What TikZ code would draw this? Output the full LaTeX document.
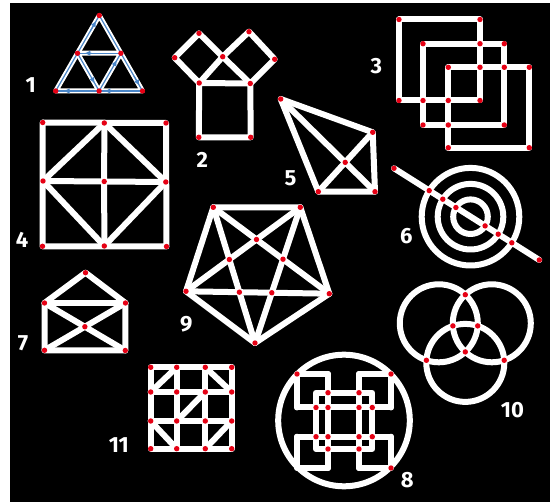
\documentclass[tikz,border=0pt]{standalone}
\usepackage{fontspec}
\newfontfamily\lblfont{Fira Sans}
\usetikzlibrary{calc,arrows.meta}
\definecolor{dotred}{RGB}{230,0,20}
\definecolor{arrowblue}{RGB}{74,134,200}
\tikzset{
 wl/.style={draw=white, line width=6pt, line cap=round, line join=round},
 thinwl/.style={draw=white, line width=5pt, line cap=round, line join=round},
 bl/.style={draw=arrowblue, line width=1.2pt},
 ba/.style={draw=arrowblue, line width=1.2pt, -{Latex[length=6pt,width=5.5pt]}},
 lbl/.style={text=white, font=\lblfont\bfseries\fontsize{22}{22}\selectfont, inner sep=0pt},
}
\newcommand\reddots[1]{\foreach \p in {#1}{\fill[dotred] (\p) circle[radius=2.7pt];}}
\begin{document}
\begin{tikzpicture}[x=1pt,y=-1pt]
\useasboundingbox (0,0) rectangle (557,502);
\fill[white] (0,0) rectangle (557,502);
\fill[black] (10,3) rectangle (550,502);

% ---------- Figure 1 ----------
\coordinate (f1t) at (99.3,15.5);
\coordinate (f1l) at (55.7,91);
\coordinate (f1r) at (142.5,91);
\coordinate (f1ml) at ($(f1t)!0.5!(f1l)$);
\coordinate (f1mr) at ($(f1t)!0.5!(f1r)$);
\coordinate (f1bm) at ($(f1l)!0.5!(f1r)$);
\draw[thinwl] (f1t) -- (f1l) -- (f1r) -- cycle;
\draw[thinwl] (f1ml) -- (f1mr) -- (f1bm) -- cycle;
\foreach \a/\b/\s/\e in {f1l/f1t/0.8/0.93, f1t/f1r/0.8/0.93, f1r/f1bm/0.72/0.88,
  f1bm/f1mr/0.66/0.82, f1mr/f1ml/0.68/0.84, f1ml/f1bm/0.64/0.8, f1bm/f1l/0.66/0.82}{
  \draw[bl] (\a) -- (\b);
  \draw[ba] ($(\a)!\s!(\b)$) -- ($(\a)!\e!(\b)$);
}
\reddots{f1t,f1l,f1r,f1ml,f1mr,f1bm}
\node[lbl] (n1) at (30.8,85.5) {1};

% ---------- Figure 2 ----------
\coordinate (f2l) at (174.7,57.7);
\coordinate (f2lt) at (199,33.3);
\coordinate (f2c) at (222.7,56.7);
\coordinate (f2rt) at (249,31.7);
\coordinate (f2r) at (274.7,59.3);
\coordinate (f2stl) at (199.2,83);
\coordinate (f2str) at (250.3,83.5);
\coordinate (f2sbl) at (198.8,137.3);
\coordinate (f2sbr) at (250.7,137.3);
\draw[wl] (f2l) -- (f2lt) -- (f2c) -- (f2stl) -- cycle;
\draw[wl] (f2c) -- (f2rt) -- (f2r) -- (f2str) -- cycle;
\draw[wl] (f2stl) -- (f2str) -- (f2sbr) -- (f2sbl) -- cycle;
\reddots{f2l,f2lt,f2c,f2rt,f2r,f2stl,f2str,f2sbl,f2sbr}
\node[lbl] (n2) at (202.2,160) {2};

% ---------- Figure 3 ----------
\coordinate (f3a1) at (399,19.5);   \coordinate (f3a2) at (480,19.5);
\coordinate (f3a3) at (480,100.5);  \coordinate (f3a4) at (399,100.5);
\coordinate (f3b1) at (423,43.7);   \coordinate (f3b2) at (504.3,43.7);
\coordinate (f3b3) at (504.3,125);  \coordinate (f3b4) at (423,125);
\coordinate (f3c1) at (448.3,67.3); \coordinate (f3c2) at (529.3,67.3);
\coordinate (f3c3) at (529.3,147.7);\coordinate (f3c4) at (448.3,147.7);
\coordinate (f3x1) at (480,43.7);   \coordinate (f3x2) at (480,67.3);
\coordinate (f3x3) at (504.3,67.3); \coordinate (f3x4) at (423,100.5);
\coordinate (f3x5) at (448.3,100.5);\coordinate (f3x6) at (448.3,125);
\draw[wl] (f3a1) -- (f3a2) -- (f3a3) -- (f3a4) -- cycle;
\draw[wl] (f3b1) -- (f3b2) -- (f3b3) -- (f3b4) -- cycle;
\draw[wl] (f3c1) -- (f3c2) -- (f3c3) -- (f3c4) -- cycle;
\reddots{f3a1,f3a2,f3a3,f3a4,f3b1,f3b2,f3b3,f3b4,f3c1,f3c2,f3c3,f3c4,f3x1,f3x2,f3x3,f3x4,f3x5,f3x6}
\node[lbl] (n3) at (376.3,66.2) {3};

% ---------- Figure 4 ----------
\coordinate (f4tl) at (42.7,122.5); \coordinate (f4tm) at (104.3,123); \coordinate (f4tr) at (166,123);
\coordinate (f4ml) at (43,181);     \coordinate (f4c) at (104.2,181.5); \coordinate (f4mr) at (165.8,182);
\coordinate (f4bl) at (42.5,246.3); \coordinate (f4bm) at (104.3,246); \coordinate (f4br) at (166.5,246.5);
\draw[wl] (f4tl) -- (f4tr) -- (f4br) -- (f4bl) -- cycle;
\draw[wl] (f4tm) -- (f4c) -- (f4bm);
\draw[wl] (f4ml) -- (f4c) -- (f4mr);
\draw[wl] (f4tm) -- (f4ml) -- (f4bm) -- (f4mr) -- cycle;
\reddots{f4tl,f4tm,f4tr,f4ml,f4c,f4mr,f4bl,f4bm,f4br}
\node[lbl] (n4) at (22,240) {4};

% ---------- Figure 5 ----------
\coordinate (f5a) at (280.7,99);
\coordinate (f5b) at (372.7,132.3);
\coordinate (f5d) at (318.3,191.7);
\coordinate (f5e) at (375,191.7);
\coordinate (f5c) at (intersection of f5a--f5e and f5d--f5b);
\draw[wl] (f5a) -- (f5b) -- (f5e) -- (f5d) -- cycle;
\draw[wl] (f5a) -- (f5e);
\draw[wl] (f5d) -- (f5b);
\reddots{f5a,f5b,f5c,f5d,f5e}
\node[lbl] (n5) at (290.5,178.3) {5};

% ---------- Figure 6 ----------
\coordinate (f6c) at (470.5,216.7);
\coordinate (f6s) at (394,168.3);
\coordinate (f6e) at (539.3,260);
\draw[wl] (f6c) circle[radius=48.8pt];
\draw[wl] (f6c) circle[radius=32.8pt];
\draw[wl] (f6c) circle[radius=17.3pt];
\draw[wl] (f6s) -- (f6e);
\coordinate (f6p1) at (429.2,190.6);
\coordinate (f6p2) at (442.8,199.2);
\coordinate (f6p3) at (455.9,207.5);
\coordinate (f6p4) at (485.1,225.9);
\coordinate (f6p5) at (498.2,234.2);
\coordinate (f6p6) at (511.8,242.8);
\reddots{f6s,f6e,f6p1,f6p2,f6p3,f6p4,f6p5,f6p6}
\node[lbl] (n6) at (406.3,235.8) {6};

% ---------- Figure 7 ----------
\coordinate (f7t) at (85.5,272.7);
\coordinate (f7l) at (44.5,303);
\coordinate (f7r) at (125.5,303);
\coordinate (f7bl) at (44.5,350.3);
\coordinate (f7br) at (125.3,350.5);
\coordinate (f7c) at (intersection of f7l--f7br and f7r--f7bl);
\draw[wl] (f7l) -- (f7t) -- (f7r) -- (f7br) -- (f7bl) -- cycle;
\draw[wl] (f7l) -- (f7r);
\draw[wl] (f7l) -- (f7br);
\draw[wl] (f7r) -- (f7bl);
\reddots{f7t,f7l,f7r,f7bl,f7br,f7c}
\node[lbl] (n7) at (23,343) {7};

% ---------- Figure 8 ----------
\coordinate (f8o) at (344,420.5);
\draw[wl] (f8o) circle[radius=65.8pt];
\coordinate (f8k1) at (297,374);   \coordinate (f8k2) at (391,374);
\coordinate (f8k3) at (391,468);   \coordinate (f8k4) at (297,468);
\coordinate (f8v1t) at (328,374);  \coordinate (f8v1b) at (328,468);
\coordinate (f8v2t) at (359,374);  \coordinate (f8v2b) at (359,468);
\coordinate (f8h1l) at (297,407.5);\coordinate (f8h1r) at (391,407.5);
\coordinate (f8h2l) at (297,436.7);\coordinate (f8h2r) at (391,436.7);
\coordinate (f8s1) at (316,392.7); \coordinate (f8s2) at (372.3,392.7);
\coordinate (f8s3) at (372.3,449); \coordinate (f8s4) at (316,449);
\draw[wl] (f8s1) -- (f8s2) -- (f8s3) -- (f8s4) -- cycle;
\draw[wl] (f8v1t) -- (f8v1b);
\draw[wl] (f8v2t) -- (f8v2b);
\draw[wl] (f8h1l) -- (f8h1r);
\draw[wl] (f8h2l) -- (f8h2r);
\draw[wl] (f8h1l) -- (f8k1) -- (f8v1t);
\draw[wl] (f8v2t) -- (f8k2) -- (f8h1r);
\draw[wl] (f8h2r) -- (f8k3) -- (f8v2b);
\draw[wl] (f8v1b) -- (f8k4) -- (f8h2l);
\coordinate (f8i1) at (328,407.5); \coordinate (f8i2) at (359,407.5);
\coordinate (f8i3) at (328,436.7); \coordinate (f8i4) at (359,436.7);
\coordinate (f8e1) at (328,392.7); \coordinate (f8e2) at (359,392.7);
\coordinate (f8e3) at (316,407.5); \coordinate (f8e4) at (372.3,407.5);
\coordinate (f8e5) at (316,436.7); \coordinate (f8e6) at (372.3,436.7);
\coordinate (f8e7) at (328,449);   \coordinate (f8e8) at (359,449);
\reddots{f8k1,f8k2,f8k3,f8i1,f8i2,f8i3,f8i4,f8e1,f8e2,f8e3,f8e4,f8e5,f8e6,f8e7,f8e8}
\node[lbl] (n8) at (407.2,480) {8};

% ---------- Figure 9 ----------
\coordinate (f9tl) at (213.3,207.3);
\coordinate (f9tr) at (300.3,207.3);
\coordinate (f9r) at (329.3,293.7);
\coordinate (f9b) at (255,343);
\coordinate (f9l) at (186,291.3);
\coordinate (f9it) at (intersection of f9tl--f9r and f9tr--f9l);
\coordinate (f9il) at (intersection of f9tr--f9l and f9tl--f9b);
\coordinate (f9ir) at (intersection of f9tl--f9r and f9tr--f9b);
\coordinate (f9ibl) at (intersection of f9l--f9r and f9tl--f9b);
\coordinate (f9ibr) at (intersection of f9l--f9r and f9tr--f9b);
\draw[wl] (f9tl) -- (f9tr) -- (f9r) -- (f9b) -- (f9l) -- cycle;
\draw[wl] (f9tl) -- (f9r);
\draw[wl] (f9tr) -- (f9l);
\draw[wl] (f9tl) -- (f9b);
\draw[wl] (f9tr) -- (f9b);
\draw[wl] (f9l) -- (f9r);
\reddots{f9tl,f9tr,f9r,f9b,f9l,f9it,f9il,f9ir,f9ibl,f9ibr}
\node[lbl] (n9) at (186.3,324) {9};

% ---------- Figure 10 ----------
\coordinate (f10a) at (438.8,323.3);
\coordinate (f10b) at (491.8,323.3);
\coordinate (f10c) at (465.3,362.9);
\draw[wl] (f10a) circle[radius=39pt];
\draw[wl] (f10b) circle[radius=39pt];
\draw[wl] (f10c) circle[radius=39pt];
\coordinate (f10p1) at (465.3,294.7);
\coordinate (f10p2) at (465.3,351.9);
\coordinate (f10p3) at (426.4,360.3);
\coordinate (f10p4) at (477.7,325.9);
\coordinate (f10p5) at (504.2,360.3);
\coordinate (f10p6) at (452.9,325.9);
\reddots{f10p1,f10p2,f10p3,f10p4,f10p5,f10p6}
\node[lbl] (n10) at (512.5,410) {10};

% ---------- Figure 11 ----------
\foreach \i/\x in {0/150.7,1/176.7,2/205.3,3/231.7}{
  \foreach \j/\y in {0/367.3,1/392,2/421,3/448.7}{
    \coordinate (g\i\j) at (\x,\y);
  }
}
\draw[wl] (g00) -- (g30) -- (g33) -- (g03) -- cycle;
\draw[wl] (g10) -- (g13);
\draw[wl] (g20) -- (g23);
\draw[wl] (g01) -- (g31);
\draw[wl] (g02) -- (g32);
\draw[wl] (g10) -- (g01);
\draw[wl] (g20) -- (g31);
\draw[wl] (g21) -- (g12);
\draw[wl] (g02) -- (g13);
\draw[wl] (g32) -- (g23);
\reddots{g00,g10,g20,g30,g01,g11,g21,g31,g02,g12,g22,g32,g03,g13,g23,g33}
\node[lbl] (n11) at (118.8,444.7) {11};
\end{tikzpicture}
\end{document}
